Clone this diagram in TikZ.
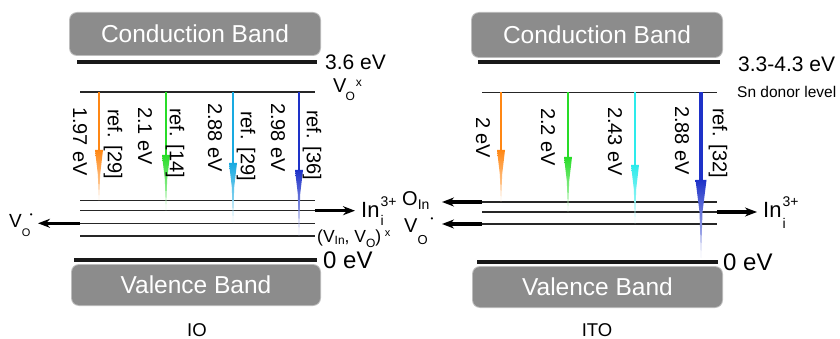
\documentclass[tikz,border=0pt]{standalone}
\usepackage{fontspec}
\setmainfont{Liberation Sans}
\usetikzlibrary{arrows.meta}
\definecolor{bandgray}{RGB}{140,140,140}
\definecolor{bandglow}{RGB}{190,190,190}
\definecolor{cOr}{RGB}{255,135,20}
\definecolor{cGr}{RGB}{40,220,40}
\definecolor{cCyL}{RGB}{25,170,225}
\definecolor{cCyR}{RGB}{45,235,235}
\definecolor{cBl}{RGB}{30,50,200}
\newcommand\fs[1]{\fontsize{#1}{#1}\selectfont}
\begin{document}
\begin{tikzpicture}[x=1pt,y=-1pt,
  band/.style={fill=bandgray, rounded corners=7pt, text=white, font=\fs{24.5}, inner sep=0pt},
  glow/.style={fill=bandglow, rounded corners=8pt},
  edgeline/.style={line width=3.6pt, black!90},
  level/.style={line width=1.3pt, black!85},
  hop/.style={line width=3.2pt, -{Stealth[length=12pt,width=9pt]}},
  rlab/.style={font=\fs{20}, rotate=-90, anchor=west, inner sep=0pt},
  elab/.style={font=\fs{21}, anchor=base west, inner sep=0pt},
  dlab/.style={anchor=base west, inner sep=0pt},
  panelname/.style={font=\fs{18.5}, inner sep=0pt}
]
\useasboundingbox (0,0) rectangle (840,339);

% ---------------- left panel (IO) ----------------
\fill[glow] (69,12) rectangle (321,56);
\node[band, minimum width=250pt, minimum height=42pt] (cbL) at (195,34) {Conduction Band};
\fill[glow] (71,264) rectangle (321,306);
\node[band, minimum width=248pt, minimum height=40pt] (vbL) at (196,285) {Valence Band};

\coordinate (cL1) at (77,62);  \coordinate (cL2) at (317,62);
\draw[edgeline] (cL1) -- (cL2);
\coordinate (vL1) at (74,260); \coordinate (vL2) at (317,260);
\draw[edgeline] (vL1) -- (vL2);
\coordinate (tL1) at (80,92);  \coordinate (tL2) at (315,92);
\draw[level] (tL1) -- (tL2);
\foreach \y/\n in {200.7/a,210.7/b,223.3/c,236/d}{
  \coordinate (L\n1) at (80,\y); \coordinate (L\n2) at (315,\y);
  \draw[level] (L\n1) -- (L\n2);
}

% transitions (left)
\foreach \x/\yt/\yh/\c in {99/200.7/150/cOr,166/210.7/155/cGr,233/223.3/163/cCyL,299/236/170/cBl}{
  \coordinate (s) at (\x,92); \coordinate (h) at (\x,\yh+1);
  \draw[\c, line width=2.4pt] (s) -- (h);
  \shade[top color=\c, bottom color=\c!25] (\x-4,\yh) -- (\x+4,\yh) -- (\x+1.2,\yh+24) -- (\x,\yt) -- (\x-1.2,\yh+24) -- cycle;
}
\node[rlab] (l1) at (80,107) {1.97 eV};
\node[rlab] (r1) at (113,109) {ref. [29]};
\node[rlab] (l2) at (145,107) {2.1 eV};
\node[rlab] (r2) at (175,108) {ref. [14]};
\node[rlab] (l3) at (215,103) {2.88 eV};
\node[rlab] (r3) at (246,111) {ref. [29]};
\node[rlab] (l4) at (278,103) {2.98 eV};
\node[rlab] (r4) at (312,110) {ref. [36]};

\node[elab] (e36) at (325,70) {3.6 eV};
\node[dlab] (vox) at (333,93) {{\fs{20}V}\kern-1pt\raisebox{-8pt}{\fs{12}O}\kern1pt\raisebox{6pt}{\fs{12}x}};
\node[elab, font=\fs{24}] (e0L) at (323,268) {0 eV};
\node[dlab] (iniL) at (361,217) {{\fs{22}In}\kern1pt\rlap{\raisebox{-9pt}{\fs{14}i}}\raisebox{10pt}{\fs{14}3+}};
\node[dlab] (voL) at (9,227) {{\fs{19}V}\rlap{\raisebox{-9pt}{\fs{11}O}}\kern8pt\raisebox{10pt}{\fs{8}\textbullet}};
\node[dlab] (pair) at (317,242.5) {{\fs{17.5}(V}\raisebox{-2pt}{\fs{12}In}{\fs{17.5}, V}\raisebox{-4.5pt}{\fs{12}O}{\fs{17.5})}\kern3.5pt\raisebox{6pt}{\fs{11}x}};
\coordinate (aL1) at (315,210.7); \coordinate (aL2) at (355,210.7);
\draw[hop] (aL1) -- (aL2);
\coordinate (bL1) at (80,223.3); \coordinate (bL2) at (38,223.3);
\draw[hop] (bL1) -- (bL2);
\node[panelname] (io) at (197,330) {IO};

% ---------------- right panel (ITO) ----------------
\fill[glow] (471,12) rectangle (723,58);
\node[band, minimum width=250pt, minimum height=44pt] (cbR) at (597,35) {Conduction Band};
\fill[glow] (472,266) rectangle (723,308);
\node[band, minimum width=249pt, minimum height=40pt] (vbR) at (597.5,287) {Valence Band};

\coordinate (cR1) at (478,62);  \coordinate (cR2) at (720,62);
\draw[edgeline] (cR1) -- (cR2);
\coordinate (vR1) at (477,262); \coordinate (vR2) at (718,262);
\draw[edgeline] (vR1) -- (vR2);
\coordinate (tR1) at (482,92.5);  \coordinate (tR2) at (717,92.5);
\draw[level] (tR1) -- (tR2);
\foreach \y/\n in {202/a,212/b,224/c}{
  \coordinate (R\n1) at (482,\y); \coordinate (R\n2) at (717,\y);
  \draw[level] (R\n1) -- (R\n2);
}

\foreach \x/\yt/\yh/\c in {501/202/150/cOr,568/212/157/cGr,635/224/165/cCyR}{
  \coordinate (s) at (\x,92.5); \coordinate (h) at (\x,\yh+1);
  \draw[\c, line width=2.4pt] (s) -- (h);
  \shade[top color=\c, bottom color=\c!25] (\x-4,\yh) -- (\x+4,\yh) -- (\x+1.2,\yh+24) -- (\x,\yt) -- (\x-1.2,\yh+24) -- cycle;
}
\coordinate (sB) at (701,92.5); \coordinate (hB) at (701,181);
\draw[cBl, line width=3.6pt] (sB) -- (hB);
\shade[top color=cBl, bottom color=cBl!20] (695.5,180) -- (706.5,180) -- (702.5,212) -- (701,258) -- (699.5,212) -- cycle;

\node[rlab] (m1) at (483,117) {2 eV};
\node[rlab] (m2) at (548,108) {2.2 eV};
\node[rlab] (m3) at (615,107) {2.43 eV};
\node[rlab] (m4) at (682,106) {2.88 eV};
\node[rlab] (m5) at (718,108) {ref. [32]};

\node[elab] (e33) at (738,72) {3.3-4.3 eV};
\node[dlab, font=\fs{15.5}] (sn) at (737,98) {Sn donor level};
\node[elab, font=\fs{24}] (e0R) at (723,270) {0 eV};
\node[dlab] (iniR) at (763,217) {{\fs{22}In}\kern1pt\rlap{\raisebox{-11pt}{\fs{14}i}}\raisebox{10pt}{\fs{14}3+}};
\node[dlab] (oin) at (402,205) {{\fs{20}O}\raisebox{-4pt}{\fs{14}In}};
\node[dlab] (voR) at (404,233) {{\fs{20}V}\rlap{\raisebox{-11pt}{\fs{13}O}}\kern13pt\raisebox{12pt}{\fs{8}\textbullet}};
\coordinate (aR1) at (482,202); \coordinate (aR2) at (442,202);
\draw[hop] (aR1) -- (aR2);
\coordinate (bR1) at (482,224); \coordinate (bR2) at (442,224);
\draw[hop] (bR1) -- (bR2);
\coordinate (cR3) at (717,212); \coordinate (cR4) at (757,212);
\draw[hop] (cR3) -- (cR4);
\node[panelname] (ito) at (597,330) {ITO};
\end{tikzpicture}
\end{document}
